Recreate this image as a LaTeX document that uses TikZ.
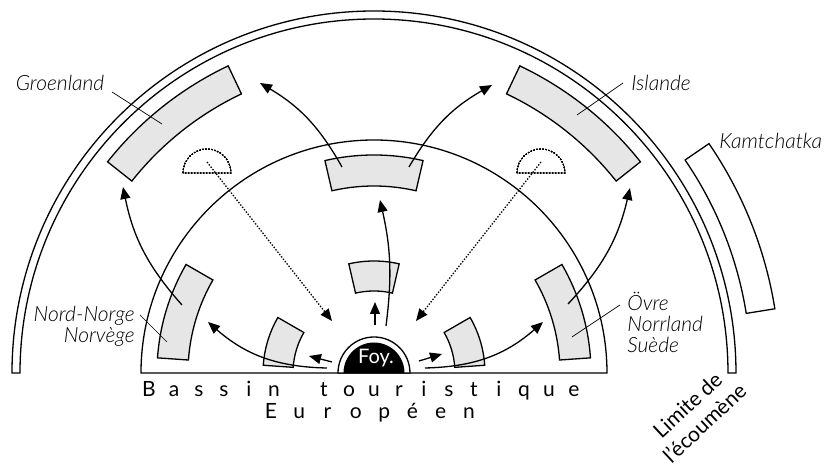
\documentclass[tikz,border=0pt]{standalone}
\usepackage{fontspec}
\setmainfont{Lato}
\newfontfamily\legere{Lato Light Italic}
\usepackage{tikz}
\usetikzlibrary{arrows.meta}
\definecolor{zonegris}{HTML}{E6E6E6}
\newcommand{\couronne}[5][zone]{\draw[#1] (#2:#4) arc[start angle=#2,end angle=#3,radius=#4] -- (#3:#5) arc[start angle=#3,end angle=#2,radius=#5] -- cycle;}

\begin{document}
\begin{tikzpicture}[x=0.5pt,y=0.5pt,
  zone/.style={draw,fill=zonegris,line width=0.65pt},
  vide/.style={draw,fill=white,line width=0.65pt},
  fleche/.style={-{Triangle[length=6pt,width=5pt]},line width=0.65pt},
  pointille/.style={fleche,dash pattern=on 0.7pt off 0.8pt},
  renvoi/.style={line width=0.35pt},
  lab/.style={font=\fontsize{10.5}{10.5}\selectfont\legere,inner sep=0pt},
  lettre/.style={font=\fontsize{10.5}{12}\selectfont,anchor=base,inner sep=0pt}]
  \useasboundingbox (-374,-93) rectangle (458,373);
  \couronne[vide]{0}{180}{354}{362}
  \couronne[vide]{9.1}{34.4}{377}{406}
  \draw[line width=0.65pt] (0:233) arc[start angle=0,end angle=180,radius=233] -- cycle;
  \foreach \a/\b/\r/\R in {115.4/141.6/309/340, 38.4/64.6/309/340, 77/103/187/218, 77/103/82/112,
                           150/176/81/111, 4/30/81/111, 150/176/186/217, 4/30/186/217}
    \couronne{\a}{\b}{\r}{\R}
  \foreach \x in {-167,167}
    \draw[dash pattern=on 0.7pt off 0.8pt,line width=0.45pt] ({\x-24},200) arc[start angle=180,end angle=0,radius=24] -- cycle;
  % foyer
  \draw[fill=white,line width=0.65pt] (36,0) arc[start angle=0,end angle=180,radius=36] -- cycle;
  \fill (30.5,0) arc[start angle=0,end angle=180,radius=30.5] -- cycle;
  \node[text=white,font=\fontsize{10}{10}\selectfont,inner sep=0pt] (foy) at (2,15) {Foy.};
  % flux
  \coordinate (dN) at (1,48);     \coordinate (cN) at (1,71);
  \coordinate (dO) at (-42,11);   \coordinate (cO) at (-65,17);
  \coordinate (dE) at (45,12);    \coordinate (cE) at (68,19);
  \coordinate (dNO) at (-47,5);   \coordinate (cNO) at (-166,51);
  \coordinate (dNE) at (51,5);    \coordinate (cNE) at (169,51);
  \coordinate (dH) at (12,47);    \coordinate (cH) at (6,173);
  \coordinate (dNor) at (-192,68);\coordinate (cNor) at (-251,186);
  \coordinate (dSue) at (194,69); \coordinate (cSue) at (256,185);
  \coordinate (dG) at (-32,206);  \coordinate (cG) at (-114,290);
  \coordinate (dI) at (35,206);   \coordinate (cI) at (118,288);
  \coordinate (dPG) at (-167,211);\coordinate (cPG) at (-42,52);
  \coordinate (dPI) at (167,211); \coordinate (cPI) at (42,52);
  \draw[fleche] (dN) -- (cN);
  \draw[fleche] (dO) -- (cO);
  \draw[fleche] (dE) -- (cE);
  \draw[fleche] (dNO) to[bend left=20] (cNO);
  \draw[fleche] (dNE) to[bend right=20] (cNE);
  \draw[fleche] (dH) to[bend right=10] (cH);
  \draw[fleche] (dNor) to[bend left=15] (cNor);
  \draw[fleche] (dSue) to[bend right=15] (cSue);
  \draw[fleche] (dG) to[bend right=15] (cG);
  \draw[fleche] (dI) to[bend left=15] (cI);
  \draw[pointille] (dPG) -- (cPG);
  \draw[pointille] (dPI) -- (cPI);
  % noms
  \node[lab] (groen) at (-314,290) {Groenland};
  \node[lab] (isl) at (287,290) {Islande};
  \node[lab,anchor=west] (kam) at (345,232) {Kamtchatka};
  \node[lab,anchor=east,align=right] (nor) at (-239,47) {Nord-Norge\\Norvège};
  \node[lab,anchor=west,align=left] (sue) at (253,51) {Övre\\Norrland\\Suède};
  \coordinate (gA) at (-262,281); \coordinate (gB) at (-212,249);
  \coordinate (iA) at (249,290);  \coordinate (iB) at (203,258);
  \coordinate (nA) at (-234,58);  \coordinate (nB) at (-207,31);
  \coordinate (sA) at (246,68);   \coordinate (sB) at (198,36);
  \draw[renvoi] (gA) -- (gB);
  \draw[renvoi] (iA) -- (iB);
  \draw[renvoi] (nA) -- (nB);
  \draw[renvoi] (sA) -- (sB);
  \foreach \c [count=\i from 0] in {B,a,s,s,i,n,{},t,o,u,r,i,s,t,i,q,u,e}
    \node[lettre] (bt\i) at ({(\i-9)*25},-24) {\c};
  \foreach \c [count=\i from 0] in {E,u,r,o,p,é,e,n}
    \node[lettre] (eu\i) at ({(\i-3.5)*28.3-4},-46) {\c};
  \node[font=\fontsize{10.5}{12.5}\selectfont,rotate=43,align=center,inner sep=0pt] (limite) at (322,-41) {Limite de\\l'écoumène};
\end{tikzpicture}
\end{document}
